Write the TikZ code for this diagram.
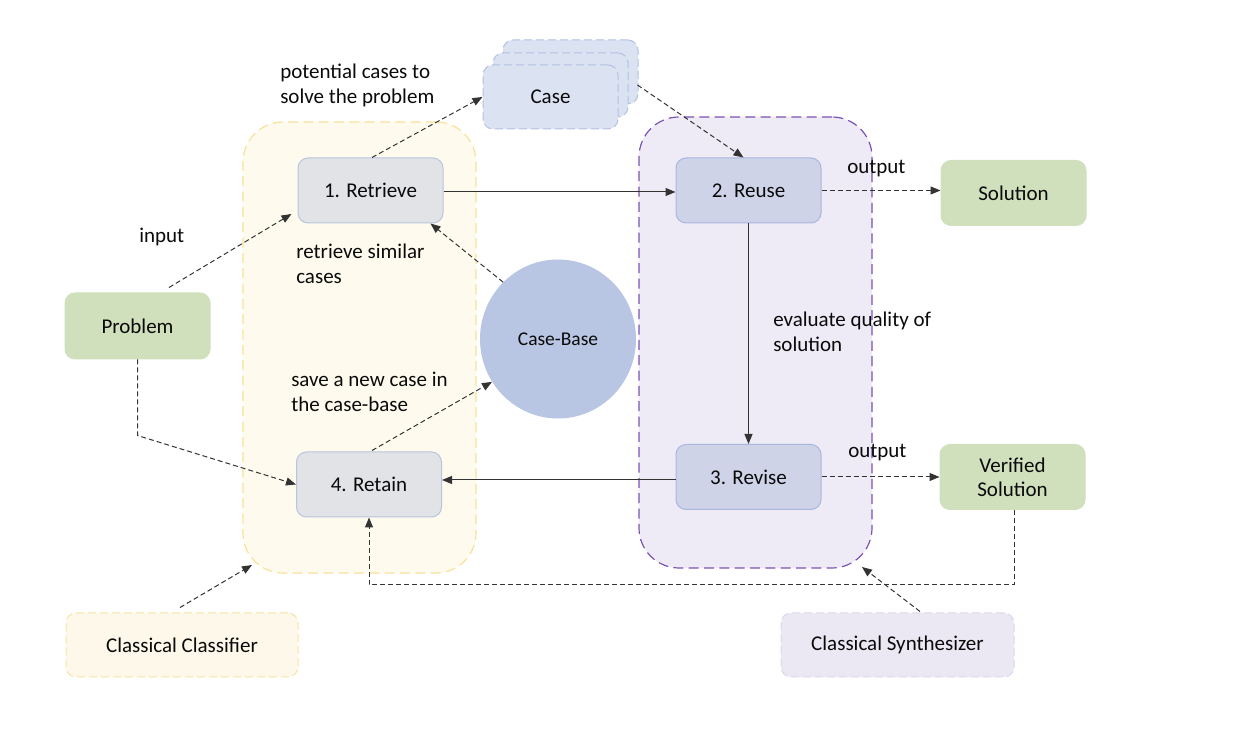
\documentclass[tikz,border=0pt]{standalone}
\usepackage{fontspec}
\setmainfont{Carlito}
\usetikzlibrary{arrows.meta,shapes.geometric,calc}
\definecolor{ycfill}{HTML}{FEFBEE}
\definecolor{ycline}{HTML}{F8E19A}
\definecolor{pcfill}{HTML}{EFEBF6}
\definecolor{pcline}{HTML}{7A52B3}
\definecolor{grayfill}{HTML}{E1E3E7}
\definecolor{grayline}{HTML}{B7C5DD}
\definecolor{bluefill}{HTML}{CED3E8}
\definecolor{blueline}{HTML}{A9B7DF}
\definecolor{greenfill}{HTML}{D0E0BC}
\definecolor{cbfill}{HTML}{B8C5E3}
\definecolor{casefill}{HTML}{DBE2F2}
\definecolor{caseline}{HTML}{B3C1E3}
\definecolor{clfill}{HTML}{FDF8EA}
\definecolor{clline}{HTML}{F8E3A3}
\definecolor{syfill}{HTML}{ECE8F3}
\definecolor{syline}{HTML}{DCD6EC}
\definecolor{linec}{HTML}{333333}
\definecolor{txt}{HTML}{0A0A0A}
\begin{document}
\begin{tikzpicture}[x=0.75pt,y=-0.75pt,
  font=\fontsize{15.75}{18.9}\selectfont, text=txt,
  box/.style={draw, rounded corners=7.5pt, line width=0.75pt, minimum width=108.75pt, minimum height=48.75pt, inner sep=0pt, align=center},
  graybox/.style={box, fill=grayfill, draw=grayline},
  bluebox/.style={box, fill=bluefill, draw=blueline},
  greenbox/.style={box, fill=greenfill, draw=greenfill},
  casebox/.style={box, fill=casefill, draw=caseline, dash pattern=on 6pt off 3pt, minimum width=101.25pt, minimum height=48pt},
  container/.style={draw, rounded corners=30pt, line width=0.9pt, dash pattern=on 7.5pt off 4pt, minimum width=174.75pt, minimum height=338.25pt, inner sep=0pt},
  classbox/.style={box, dash pattern=on 6pt off 3pt, minimum width=174pt, minimum height=48pt},
  lbl/.style={inner sep=0pt, align=left, anchor=west},
  dasharr/.style={draw=linec, line width=0.75pt, dash pattern=on 3.75pt off 2.25pt, -{Triangle[length=7.5pt,width=6pt]}},
  solidarr/.style={draw=linec, line width=0.75pt, -{Triangle[length=7.5pt,width=6pt]}}
]
\useasboundingbox (0,0) rectangle (1240,730);

% containers
\node[container, fill=ycfill, draw=ycline] (ycont) at (359.5,347.5) {};
\node[container, fill=pcfill, draw=pcline] (pcont) at (755.5,342.5) {};

% case stack
\node[casebox] (caseback) at (570.5,72) {};
\node[casebox] (casemid) at (560.5,85) {};
\node[casebox] (case) at (550.5,97) {Case};

% steps
\node[graybox] (retrieve) at (370.5,190.5) {1. Retrieve};
\node[graybox] (retain) at (369,484.5) {4. Retain};
\node[bluebox] (reuse) at (748.5,190.5) {2. Reuse};
\node[bluebox] (revise) at (748.5,477) {3. Revise};
\node[greenbox] (solution) at (1013.5,193) {Solution};
\node[greenbox] (verified) at (1012.5,477) {Verified\\[-1pt]Solution};
\node[greenbox, minimum height=49.5pt] (problem) at (137.5,326) {Problem};
\node[ellipse, fill=cbfill, minimum width=117pt, minimum height=119.25pt, inner sep=0pt, font=\fontsize{14.6}{17}\selectfont] (casebase) at (558,339) {Case-Base};

\node[classbox, fill=clfill, draw=clline] (classifier) at (182,645) {Classical Classifier};
\node[classbox, fill=syfill, draw=syline, minimum width=174.75pt] (synth) at (897.5,645) {Classical Synthesizer};

% labels
\node[lbl] (linput) at (139,237) {input};
\node[lbl] (lpot) at (280,85.5) {potential cases to\\solve the problem};
\node[lbl] (lret) at (296,264) {retrieve similar\\cases};
\node[lbl] (lsave) at (291,392) {save a new case in\\the case-base};
\node[lbl] (leval) at (773,331.5) {evaluate quality of\\solution};
\node[lbl] (lout1) at (847,169) {output};
\node[lbl] (lout2) at (848,453) {output};

% connectors
\draw[dasharr] ($(problem.north)+(31.5,-5)$) -- ($(retrieve.west)+(-6,23.5)$);
\draw[dasharr] (problem.south) -- ++(0,76) -- (retain.west);
\draw[dasharr] ($(retrieve.north)+(1.5,0)$) -- (case.west);
\draw[dasharr] ($(caseback.east)+(-1,13)$) -- ($(reuse.north)+(-5,0)$);
\draw[solidarr] ($(retrieve.east)+(0,1.5)$) -- ($(reuse.west)+(0,1.5)$);
\draw[dasharr] (reuse.east) -- (solution.west |- reuse.east);
\draw[solidarr] (reuse.south) -- (revise.north);
\draw[dasharr] (revise.east) -- (verified.west);
\draw[solidarr] ($(revise.west)+(0,3)$) -- (retain.east |- {$(revise.west)+(0,3)$});
\draw[dasharr] (casebase.134) -- ($(retrieve.south east)+(-13,0)$);
\draw[dasharr] ($(retain.north)+(3,-1)$) -- (casebase.213);
\draw[dasharr] ($(verified.south)+(1.5,0)$) -- ++(0,75) -| (retain.south);
\draw[dasharr] ($(classifier.north)+(-2,-5)$) -- (252,565);
\draw[dasharr] ($(synth.north)+(22.5,-1)$) -- (862,567);
\end{tikzpicture}
\end{document}
